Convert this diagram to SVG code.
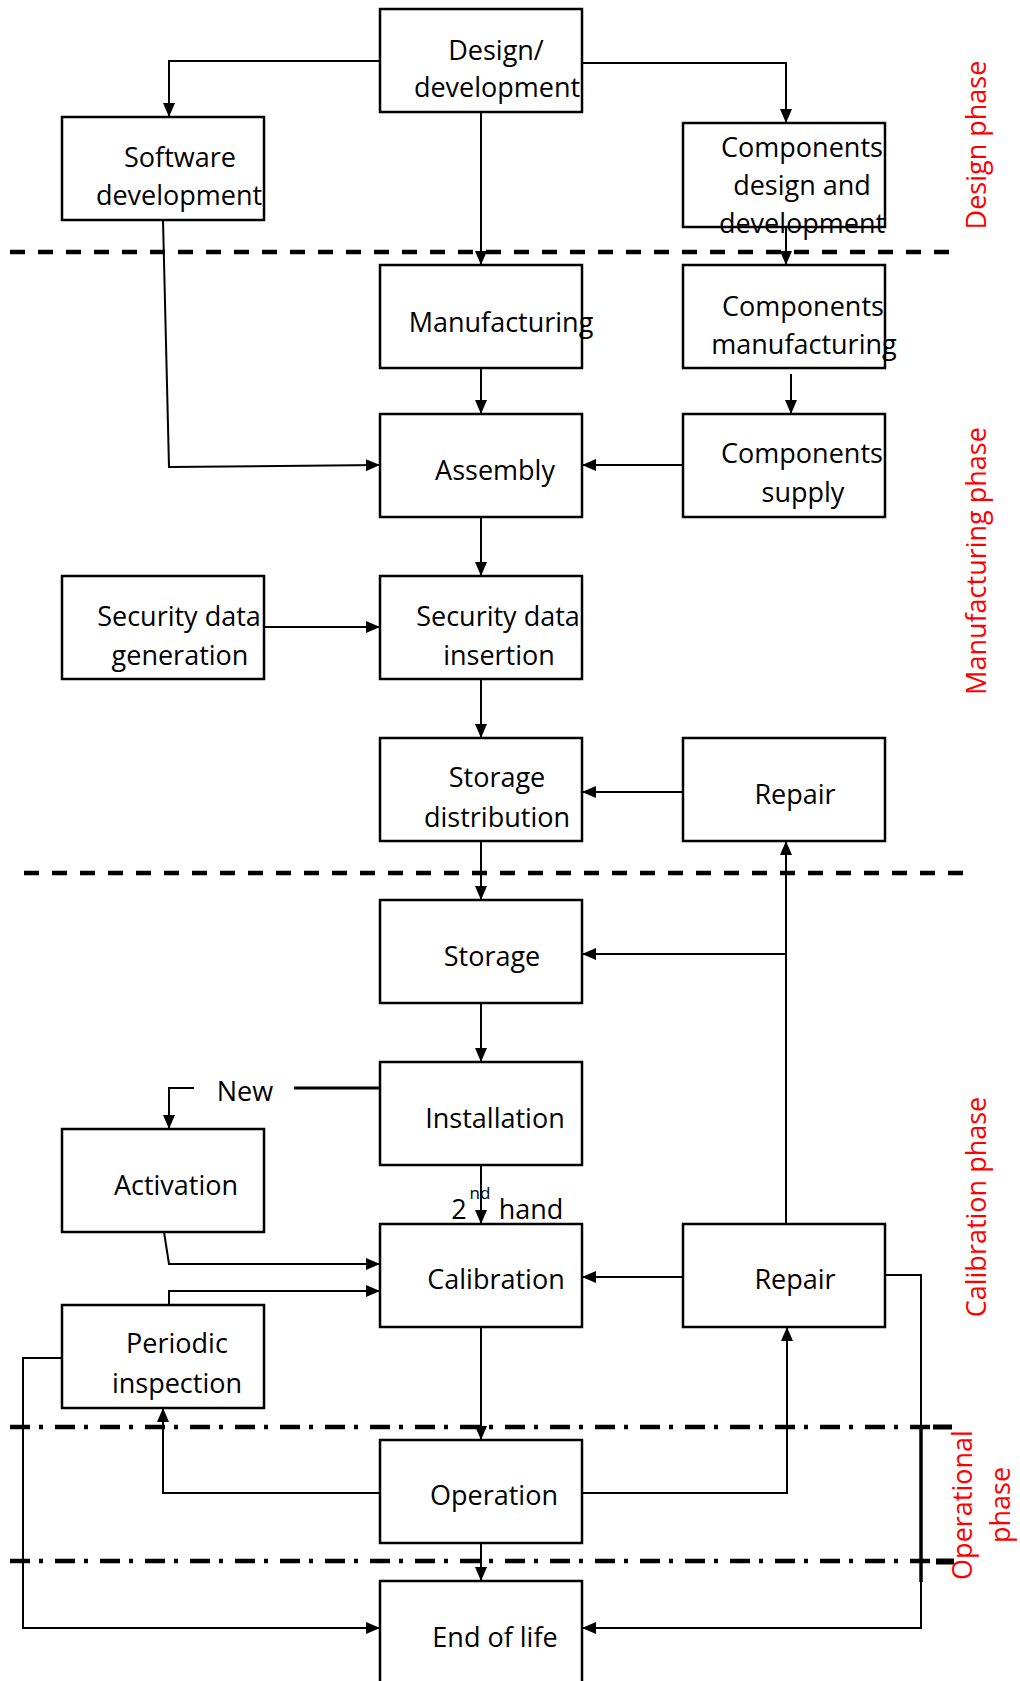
<svg xmlns="http://www.w3.org/2000/svg" width="1020" height="1681" viewBox="0 0 1020 1681">
<style>
.box{fill:#fff;stroke:#000;stroke-width:2.5}
.t{font-family:"Open Sans","DejaVu Sans",sans-serif;font-size:27px;fill:#000;text-anchor:middle}
.r{font-family:"Open Sans","DejaVu Sans",sans-serif;font-size:27px;fill:#f00;text-anchor:middle}
.c{fill:none;stroke:#000;stroke-width:2}
.dash{stroke:#000;stroke-width:4.5;stroke-dasharray:15 13;fill:none}
.dd{stroke:#000;stroke-width:4.5;stroke-dasharray:20 9 4 12;fill:none}
</style>
<defs>
<marker id="a" markerUnits="userSpaceOnUse" markerWidth="14" markerHeight="12" refX="14" refY="6" orient="auto">
<path d="M0,0 L14,6 L0,12 z" fill="#000"/>
</marker>
</defs>
<rect width="1020" height="1681" fill="#fff"/>

<g id="phase-lines">
<line class="dash" x1="10" y1="252" x2="955" y2="252"/>
<line class="dash" x1="24" y1="873" x2="972" y2="873"/>
<line class="dd" x1="10" y1="1427" x2="930" y2="1427"/>
<rect x="933" y="1424.5" width="19" height="5" fill="#000"/>
<line class="dd" x1="10" y1="1561" x2="930" y2="1561"/>
<rect x="936" y="1558.5" width="18" height="6" fill="#000"/>
<line x1="921" y1="1425" x2="921" y2="1582" stroke="#000" stroke-width="3.5"/>
</g>

<g id="connectors">
<polyline class="c" points="380,61 169,61 169,117" marker-end="url(#a)"/>
<polyline class="c" points="582,63 786,63 786,123" marker-end="url(#a)"/>
<polyline class="c" points="481,112 481,265" marker-end="url(#a)"/>
<polyline class="c" points="786,227 786,265" marker-end="url(#a)"/>
<polyline class="c" points="163,220 169,467 380,465" marker-end="url(#a)"/>
<polyline class="c" points="481,368 481,414" marker-end="url(#a)"/>
<polyline class="c" points="791,374 791,414" marker-end="url(#a)"/>
<polyline class="c" points="683,465 582,465" marker-end="url(#a)"/>
<polyline class="c" points="481,517 481,576" marker-end="url(#a)"/>
<polyline class="c" points="264,627 380,627" marker-end="url(#a)"/>
<polyline class="c" points="481,679 481,738" marker-end="url(#a)"/>
<polyline class="c" points="682,792 582,792" marker-end="url(#a)"/>
<polyline class="c" points="481,841 481,900" marker-end="url(#a)"/>
<polyline class="c" points="786,1224 786,841" marker-end="url(#a)"/>
<polyline class="c" points="786,954 582,954" marker-end="url(#a)"/>
<polyline class="c" points="481,1003 481,1062" marker-end="url(#a)"/>
<line x1="380" y1="1088" x2="294" y2="1088" stroke="#000" stroke-width="3"/>
<polyline class="c" points="194,1088 169,1088 169,1129" marker-end="url(#a)" stroke-width="2.5"/>
<polyline class="c" points="481,1165 481,1224" marker-end="url(#a)"/>
<polyline class="c" points="164,1232 169,1264 380,1264" marker-end="url(#a)"/>
<polyline class="c" points="169,1305 169,1291 380,1291" marker-end="url(#a)"/>
<polyline class="c" points="683,1277 582,1277" marker-end="url(#a)"/>
<polyline class="c" points="481,1327 481,1440" marker-end="url(#a)"/>
<polyline class="c" points="380,1493 163,1493 163,1408" marker-end="url(#a)"/>
<polyline class="c" points="582,1493 787,1493 787,1327" marker-end="url(#a)"/>
<polyline class="c" points="481,1543 481,1581" marker-end="url(#a)"/>
<polyline class="c" points="62,1358 23,1358 23,1628 380,1628" marker-end="url(#a)"/>
<polyline class="c" points="885,1275 921,1275 921,1628 582,1628" marker-end="url(#a)"/>
</g>

<g id="design-development"><rect class="box" x="380" y="9" width="202" height="103"/>
<text class="t" x="496" y="60">Design/</text><text class="t" x="497" y="97">development</text></g>

<g id="software-development"><rect class="box" x="62" y="117" width="202" height="103"/>
<text class="t" x="180" y="167">Software</text><text class="t" x="179" y="205">development</text></g>

<g id="components-design"><rect class="box" x="683" y="123" width="202" height="104"/>
<text class="t" x="802" y="157">Components</text><text class="t" x="802" y="195">design and</text><text class="t" x="802" y="233">development</text></g>

<g id="manufacturing"><rect class="box" x="380" y="265" width="202" height="103"/>
<text class="t" x="501" y="332">Manufacturing</text></g>

<g id="components-manufacturing"><rect class="box" x="683" y="265" width="202" height="103"/>
<text class="t" x="803" y="316">Components</text><text class="t" x="804" y="354">manufacturing</text></g>

<g id="assembly"><rect class="box" x="380" y="414" width="202" height="103"/>
<text class="t" x="495" y="480">Assembly</text></g>

<g id="components-supply"><rect class="box" x="683" y="414" width="202" height="103"/>
<text class="t" x="802" y="463">Components</text><text class="t" x="803" y="502">supply</text></g>

<g id="security-data-generation"><rect class="box" x="62" y="576" width="202" height="103"/>
<text class="t" x="179" y="626">Security data</text><text class="t" x="180" y="665">generation</text></g>

<g id="security-data-insertion"><rect class="box" x="380" y="576" width="202" height="103"/>
<text class="t" x="498" y="626">Security data</text><text class="t" x="499" y="665">insertion</text></g>

<g id="storage-distribution"><rect class="box" x="380" y="738" width="202" height="103"/>
<text class="t" x="497" y="787">Storage</text><text class="t" x="497" y="827">distribution</text></g>

<g id="repair-top"><rect class="box" x="683" y="738" width="202" height="103"/>
<text class="t" x="795" y="804">Repair</text></g>

<g id="storage"><rect class="box" x="380" y="900" width="202" height="103"/>
<text class="t" x="492" y="966">Storage</text></g>

<g id="installation"><rect class="box" x="380" y="1062" width="202" height="103"/>
<text class="t" x="495" y="1128">Installation</text></g>

<g id="activation"><rect class="box" x="62" y="1129" width="202" height="103"/>
<text class="t" x="176" y="1195">Activation</text></g>

<g id="calibration"><rect class="box" x="380" y="1224" width="202" height="103"/>
<text class="t" x="496" y="1289">Calibration</text></g>

<g id="repair-bottom"><rect class="box" x="683" y="1224" width="202" height="103"/>
<text class="t" x="795" y="1289">Repair</text></g>

<g id="periodic-inspection"><rect class="box" x="62" y="1305" width="202" height="103"/>
<text class="t" x="177" y="1353">Periodic</text><text class="t" x="177" y="1393">inspection</text></g>

<g id="operation"><rect class="box" x="380" y="1440" width="202" height="103"/>
<text class="t" x="494" y="1505">Operation</text></g>

<g id="end-of-life"><rect class="box" x="380" y="1581" width="202" height="115"/>
<text class="t" x="495" y="1647">End of life</text></g>

<g id="labels">
<text class="t" x="245" y="1101">New</text>
<text class="t" x="459" y="1219">2</text>
<text class="t" x="480" y="1199" style="font-size:17px">nd</text>
<text class="t" x="531" y="1219">hand</text>
</g>

<g id="phase-labels">
<text class="r" transform="translate(986,145) rotate(-90)">Design phase</text>
<text class="r" transform="translate(986,561) rotate(-90)">Manufacturing phase</text>
<text class="r" transform="translate(986,1207) rotate(-90)">Calibration phase</text>
<text class="r" transform="translate(972,1505) rotate(-90)"><tspan x="0" y="0">Operational</tspan><tspan x="0" y="38">phase</tspan></text>
</g>
</svg>
